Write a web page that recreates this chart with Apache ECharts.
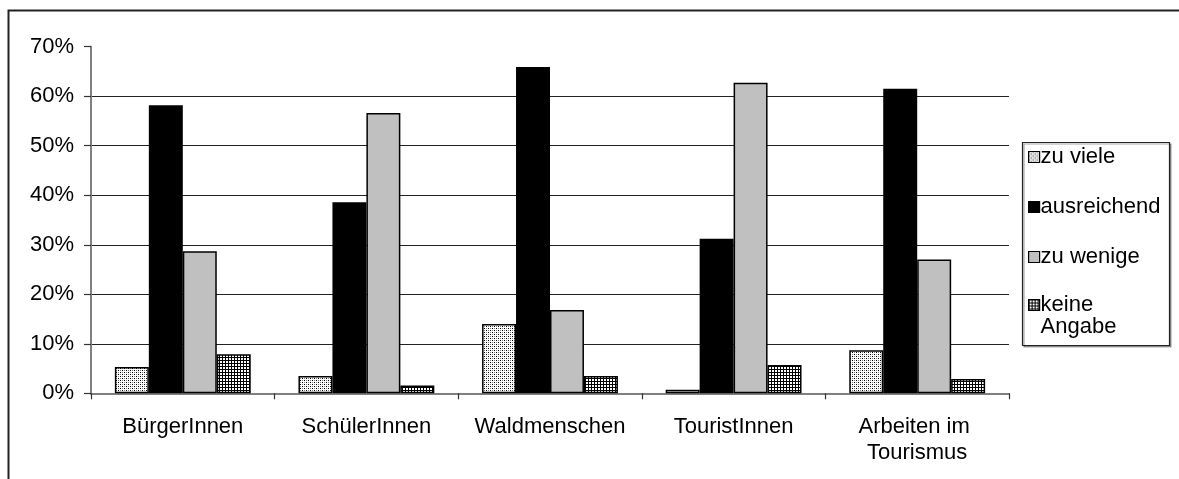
<!DOCTYPE html>
<html>
<head>
<meta charset="utf-8">
<script src="https://cdn.jsdelivr.net/npm/echarts@6/dist/echarts.min.js"></script>
<style>
html,body{margin:0;padding:0;background:#fff;}
#chart{width:1179px;height:479px;}
</style>
</head>
<body>
<div id="chart"></div>
<script>
const categories = ['BürgerInnen', 'SchülerInnen', 'Waldmenschen', 'TouristInnen', 'Arbeiten im Tourismus'];
const seriesNames = ['zu viele', 'ausreichend', 'zu wenige', 'keine Angabe'];
const zuViele     = [5.3, 3.5, 14.0, 0.7, 8.7];
const ausreichend = [58.2, 38.6, 65.9, 31.2, 61.5];
const zuWenige    = [28.7, 56.6, 16.8, 62.7, 27.0];
const keineAngabe = [7.9, 1.6, 3.5, 5.7, 2.9];
const yTicks = { min: 0, max: 70, step: 10 };

function makePattern(size, draw) {
  const c = document.createElement('canvas');
  c.width = size; c.height = size;
  const ctx = c.getContext('2d');
  ctx.fillStyle = '#fff';
  ctx.fillRect(0, 0, size, size);
  draw(ctx);
  return { image: c, repeat: 'repeat' };
}
const dotted = makePattern(4, ctx => {
  ctx.fillStyle = '#000';
  ctx.fillRect(0, 0, 1, 1); ctx.fillRect(2, 2, 1, 1);
  ctx.fillStyle = '#808080';
  ctx.fillRect(2, 0, 1, 1); ctx.fillRect(0, 2, 1, 1);
});
const gridPat = makePattern(3, ctx => {
  ctx.fillStyle = '#000';
  ctx.fillRect(0, 0, 3, 1); ctx.fillRect(0, 0, 1, 3);
});

const fills = [dotted, '#000000', '#c0c0c0', gridPat];
const values = [zuViele, ausreichend, zuWenige, keineAngabe];
const FONT = 'Liberation Sans, Arial, sans-serif';
const FS = 22;

const chart = echarts.init(document.getElementById('chart'));
chart.setOption({
  animation: false,
  backgroundColor: '#fff',
  textStyle: { fontFamily: FONT, color: '#000' },
  grid: { left: 91, right: 170, top: 46.7, bottom: 85.7, containLabel: false },
  graphic: [
    { type: 'polyline', silent: true, shape: { points: [[8.5, 479], [8.5, 10.5], [1179, 10.5]] },
      style: { stroke: '#222', lineWidth: 2, fill: null } },
    { type: 'rect', silent: true, shape: { x: 1022.5, y: 142.5, width: 147, height: 203 },
      style: { stroke: '#222', lineWidth: 1.2, fill: '#fff', shadowColor: 'rgba(0,0,0,0.35)', shadowOffsetX: 1.5, shadowOffsetY: 1.5, shadowBlur: 0 }, z: 0 }
  ],
  legend: [
    {
      orient: 'vertical', left: 1028, top: 145.5,
      data: seriesNames.slice(0, 3), itemWidth: 11, itemHeight: 11, itemGap: 27,
      icon: 'rect', padding: 0,
      textStyle: { fontFamily: FONT, fontSize: FS, color: '#000', lineHeight: 23, padding: [0, 0, 0, -4] },
      itemStyle: { borderColor: '#000', borderWidth: 1.2 }
    },
    {
      orient: 'vertical', left: 1028, top: 272,
      data: seriesNames.slice(3), itemWidth: 11, itemHeight: 11,
      icon: 'rect', padding: 0,
      formatter: () => '{pad| }\nkeine\nAngabe',
      textStyle: { fontFamily: FONT, fontSize: FS, color: '#000', lineHeight: 22, padding: [0, 0, 0, -4],
        rich: { pad: { fontSize: FS, lineHeight: 22 } } },
      itemStyle: { borderColor: '#000', borderWidth: 1.2 }
    }
  ],
  xAxis: {
    type: 'category',
    data: categories,
    axisLine: { lineStyle: { color: '#808080', width: 2 } },
    axisTick: { show: true, alignWithLabel: false, length: 6, lineStyle: { color: '#333', width: 1.2 } },
    axisLabel: { fontFamily: FONT, fontSize: FS, color: '#000', margin: 21, lineHeight: 26,
      width: 175, overflow: 'break', interval: 0 },
    splitLine: { show: false }
  },
  yAxis: {
    type: 'value',
    min: yTicks.min, max: yTicks.max, interval: yTicks.step,
    axisLine: { show: true, lineStyle: { color: '#808080', width: 2 } },
    axisTick: { show: true, length: 7, lineStyle: { color: '#333', width: 1.2 } },
    axisLabel: { fontFamily: FONT, fontSize: FS, color: '#000', margin: 17, formatter: '{value}%' },
    splitLine: { show: true, showMaxLine: false, showMinLine: false, lineStyle: { color: '#222', width: 1.2 } }
  },
  series: seriesNames.map((name, i) => ({
    name,
    type: 'bar',
    data: values[i],
    barGap: '0%',
    barCategoryGap: '26%',
    itemStyle: { color: fills[i], borderColor: '#000', borderWidth: 1.5 },
    emphasis: { disabled: true }
  }))
});
</script>
</body>
</html>
